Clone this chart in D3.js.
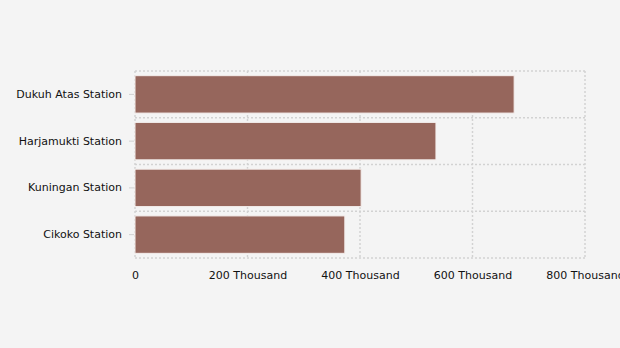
<!DOCTYPE html>
<html><head><meta charset="utf-8">
<script src="https://cdn.jsdelivr.net/npm/d3@7"></script>
<style>html,body{margin:0;padding:0;background:#f4f4f4;overflow:hidden}</style>
</head><body>
<svg id="c" width="620" height="348"></svg>
<script>
const categories = ["Dukuh Atas Station", "Harjamukti Station", "Kuningan Station", "Cikoko Station"];
const values = [674000, 535000, 402000, 373000];
const tickValues = [0, 200000, 400000, 600000, 800000];
const tickLabels = ["0", "200 Thousand", "400 Thousand", "600 Thousand", "800 Thousand"];

const svg = d3.select("#c");
const m = {left: 135, right: 585, top: 71, bottom: 258};
const x = d3.scaleLinear().domain([0, 800000]).range([m.left, m.right]);
const y = d3.scaleBand().domain(categories).range([m.top, m.bottom]).paddingInner(0.2).paddingOuter(0.1);
const font = "'DejaVu Sans', Verdana, sans-serif";
const gridColor = "#d2d2d2";

// grid verticals
svg.append("g").selectAll("line").data(tickValues).join("line")
  .attr("x1", d => x(d)).attr("x2", d => x(d)).attr("y1", m.top).attr("y2", m.bottom)
  .attr("stroke", gridColor).attr("stroke-dasharray", "2,2").attr("stroke-width", 1.5);
// grid horizontals (band boundaries)
const hs = d3.range(categories.length + 1).map(i => m.top + i * (m.bottom - m.top) / categories.length);
svg.append("g").selectAll("line").data(hs).join("line")
  .attr("x1", m.left).attr("x2", m.right).attr("y1", d => d).attr("y2", d => d)
  .attr("stroke", gridColor).attr("stroke-dasharray", "2,2").attr("stroke-width", 1.5);

// bars
svg.append("g").selectAll("rect").data(values).join("rect")
  .attr("x", x(0)).attr("y", (d, i) => y(categories[i]))
  .attr("width", d => x(d) - x(0)).attr("height", y.bandwidth())
  .attr("fill", "#96665c").attr("stroke", "#f4eeec").attr("stroke-width", 1);

// y axis
const yAxis = svg.append("g").attr("transform", `translate(${m.left - 1},0)`)
  .call(d3.axisLeft(y).tickSize(5).tickPadding(7));
yAxis.select(".domain").remove();
yAxis.selectAll(".tick line").attr("stroke", "#d0d0d0");
yAxis.selectAll("text").attr("font-family", font).attr("font-size", 11).attr("fill", "#111");

// x axis
const xAxis = svg.append("g").attr("transform", `translate(0,${m.bottom})`)
  .call(d3.axisBottom(x).tickValues(tickValues).tickFormat((d, i) => tickLabels[i]).tickSize(0).tickPadding(13));
xAxis.select(".domain").remove();
xAxis.selectAll("text").attr("font-family", font).attr("font-size", 11).attr("fill", "#111");
</script>
</body></html>
